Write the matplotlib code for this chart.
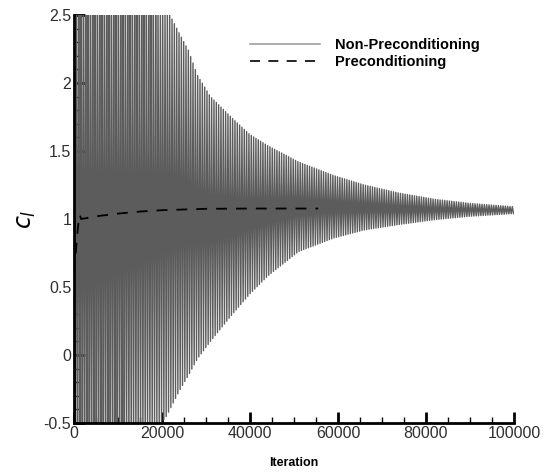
import numpy as np
import matplotlib.pyplot as plt
from matplotlib.lines import Line2D
from matplotlib.ticker import MultipleLocator

plt.rcParams['font.family'] = ['Liberation Sans', 'DejaVu Sans']

# envelope of the non-preconditioned c_l oscillation
env_iter = [0, 21000, 24000, 26000, 28000, 31000, 36000, 40000, 44000, 51000,
            59000, 66000, 74000, 82000, 90000, 100000]
env_upper = [3.2, 2.55, 2.36, 2.24, 2.06, 1.9, 1.74, 1.62, 1.54, 1.42,
             1.32, 1.25, 1.19, 1.145, 1.115, 1.09]
env_lower = [-1.4, -0.45, -0.26, -0.15, -0.03, 0.1, 0.3, 0.45, 0.58, 0.76,
             0.86, 0.92, 0.96, 0.995, 1.02, 1.04]
osc_period = 530  # iterations per cycle, estimated from stripe spacing

# preconditioned run
pre_iter = [0, 300, 700, 1000, 1300, 1600, 2500, 5000, 10000, 15000, 20000,
            25000, 30000, 40000, 50000, 55500]
pre_cl = [0.6, 0.72, 0.88, 0.98, 1.03, 1.0, 1.005, 1.02, 1.04, 1.055, 1.065,
          1.07, 1.075, 1.077, 1.077, 1.077]

# zigzag between the two envelopes, one peak and one trough per cycle
peaks = np.arange(0, 100000 + 1, osc_period / 2)
up = np.interp(peaks, env_iter, env_upper)
lo = np.interp(peaks, env_iter, env_lower)
osc = np.where(np.arange(len(peaks)) % 2 == 0, up, lo)

fig = plt.figure(figsize=(5.45, 4.72), dpi=100)
ax = fig.add_axes([0.136, 0.104, 0.807, 0.864])

ax.plot(peaks, osc, color='#5c5c5c', lw=1.0)
ax.plot(pre_iter, pre_cl, color='black', lw=1.3, dashes=(6, 5))

ax.set_xlim(0, 100000)
ax.set_ylim(-0.5, 2.5)
ax.xaxis.set_major_locator(MultipleLocator(20000))
ax.xaxis.set_minor_locator(MultipleLocator(5000))
ax.yaxis.set_major_locator(MultipleLocator(0.5))
ax.yaxis.set_minor_locator(MultipleLocator(0.1))
ax.set_yticks([-0.5, 0, 0.5, 1, 1.5, 2, 2.5])
ax.set_yticklabels(['-0.5', '0', '0.5', '1', '1.5', '2', '2.5'])

for s in ['top', 'right']:
    ax.spines[s].set_visible(False)
for s in ['left', 'bottom']:
    ax.spines[s].set_linewidth(2)
ax.tick_params(which='major', direction='in', length=8, width=2, labelsize=11.5,
               pad=2, labelcolor='#303030')
ax.tick_params(which='minor', direction='in', length=4, width=1)

ax.set_xlabel('Iteration', fontsize=9, fontweight='bold', labelpad=12)
ax.set_ylabel('$c_l$', fontsize=17, labelpad=4)

handles = [Line2D([], [], color='#a0a0a0', lw=1.2),
           Line2D([], [], color='black', lw=1.2, dashes=(6, 5))]
ax.legend(handles, ['Non-Preconditioning', 'Preconditioning'],
          loc='upper left', bbox_to_anchor=(0.37, 0.975), frameon=False,
          handlelength=4.8, handletextpad=1.0, labelspacing=0.15,
          prop={'weight': 'bold', 'size': 10.5})

fig.savefig('out.png', dpi=100)
